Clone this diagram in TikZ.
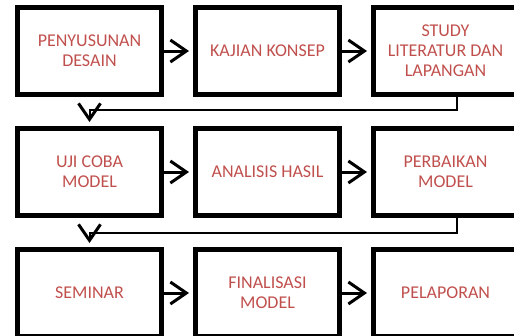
\documentclass[tikz,border=0pt]{standalone}
\usepackage{fontspec}
\setmainfont{Carlito}
\usetikzlibrary{arrows.meta,positioning}
\definecolor{teksmerah}{HTML}{C0504D}

\begin{document}
\begin{tikzpicture}[x=1pt,y=1pt,node distance=29pt,
	tahap/.style={draw,line width=5pt,minimum width=144pt,minimum height=87pt,align=center,text=teksmerah,font=\fontsize{18}{20}\selectfont},
	ujung/.style={-{Straight Barb[length=16pt,width=22pt,line width=3pt,color=black]}},
	panah/.style={ujung,line width=3pt,shorten >=4pt},
	garis/.style={line width=2pt,shorten >=6pt},
	ujungsaja/.style={ujung,draw=white,line width=1pt,shorten >=4pt}]
		\useasboundingbox (0,0) rectangle (514,-335);
		\clip (0,0) rectangle (514,-335);
		% baris pertama
		\node[tahap] (desain) at (89.5,-51) {PENYUSUNAN\\DESAIN};
		\node[tahap,right=of desain] (konsep) {KAJIAN KONSEP};
		\node[tahap,right=of konsep] (studi) {STUDY\\LITERATUR DAN\\LAPANGAN};
		% baris kedua
		\node[tahap,below=of desain] (ujicoba) {UJI COBA\\MODEL};
		\node[tahap,right=of ujicoba] (analisis) {ANALISIS HASIL};
		\node[tahap,right=of analisis] (perbaikan) {PERBAIKAN\\MODEL};
		% baris ketiga
		\node[tahap,below=of ujicoba] (seminar) {SEMINAR};
		\node[tahap,right=of seminar] (final) {FINALISASI\\MODEL};
		\node[tahap,right=of final] (lapor) {PELAPORAN};
		
		\draw[panah] (desain) -- (konsep);
		\draw[panah] (konsep) -- (studi);
		\draw[panah] (ujicoba) -- (analisis);
		\draw[panah] (analisis) -- (perbaikan);
		\draw[panah] (seminar) -- (final);
		\draw[panah] (final) -- (lapor);
		
		% garis balik ke baris berikutnya
		\draw[ujungsaja] (ujicoba.north) ++(0,28) -- (ujicoba.north);
		\draw[garis] ([xshift=11.5pt]studi.south) -- ++(0,-13) -| (ujicoba.north);
		\draw[ujungsaja] (seminar.north) ++(0,28) -- (seminar.north);
		\draw[garis] ([xshift=11.5pt]perbaikan.south) -- ++(0,-15) -| (seminar.north);
\end{tikzpicture}
\end{document}
